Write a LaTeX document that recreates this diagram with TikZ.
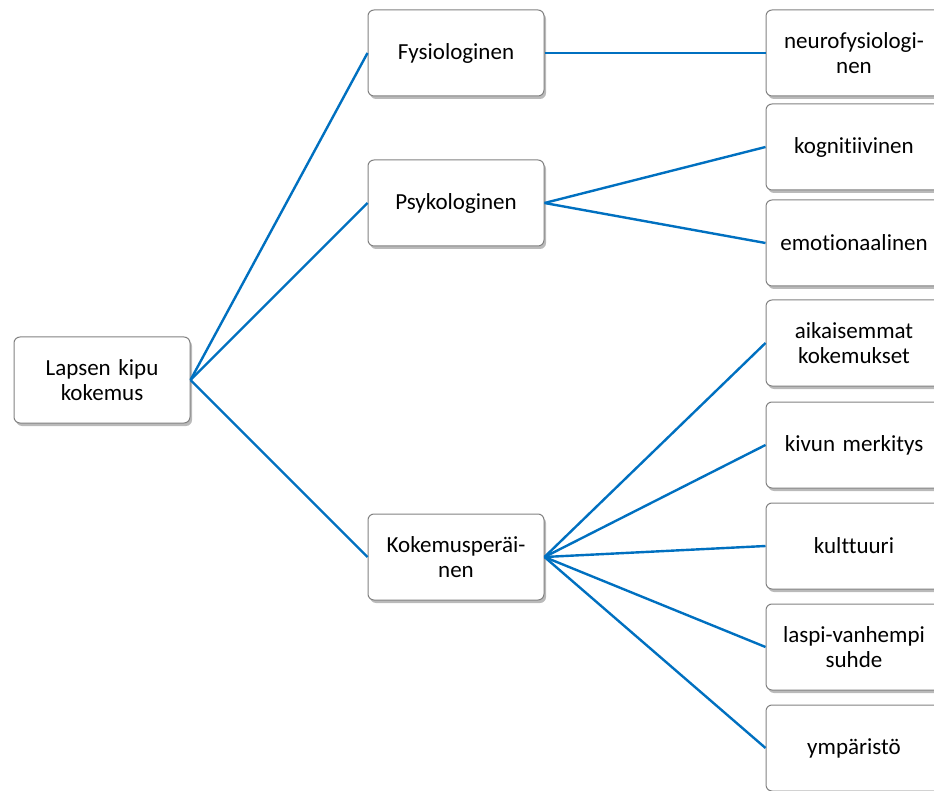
\documentclass[tikz,border=0pt]{standalone}
\usepackage{fontspec}
\setmainfont{Carlito}[Ligatures={NoCommon}, WordSpace={0.8,0.5,0.5}]
\usetikzlibrary{shadows}
\definecolor{linkblue}{RGB}{0,112,192}
\definecolor{boxgray}{RGB}{130,130,130}
\tikzset{
  box/.style={draw=boxgray, line width=1pt, rounded corners=6pt, fill=white,
    minimum width=176pt, minimum height=86pt, text width=170pt, align=center,
    font=\fontsize{23}{25}\selectfont, inner sep=0pt,
    drop shadow={shadow xshift=2pt, shadow yshift=-3pt, opacity=0.45, fill=black!60}},
  link/.style={draw=linkblue, line width=2.4pt}
}
\begin{document}
\begin{tikzpicture}[x=1pt,y=-1pt]
\useasboundingbox (0,0) rectangle (934,791);
\clip (0,0) rectangle (934,791);
\node[box] (root) at (102,380) {Lapsen kipu\\kokemus};
\node[box] (fys) at (456,53) {Fysiologinen};
\node[box] (psy) at (456,203) {Psykologinen};
\node[box] (kok) at (456,557) {Kokemusperäi-\\nen};
\node[box] (neu) at (854,53) {neurofysiologi-\\nen};
\node[box] (kog) at (854,147) {kognitiivinen};
\node[box] (emo) at (854,243) {emotionaalinen};
\node[box] (aik) at (854,343) {aikaisemmat\\kokemukset};
\node[box] (kiv) at (854,445) {kivun merkitys};
\node[box] (kul) at (854,546) {kulttuuri};
\node[box] (las) at (854,647) {laspi-vanhempi\\suhde};
\node[box] (ymp) at (854,748) {ympäristö};
\draw[link] (root.east) -- (fys.west);
\draw[link] (root.east) -- (psy.west);
\draw[link] (root.east) -- (kok.west);
\draw[link] (fys.east) -- (neu.west);
\draw[link] (psy.east) -- (kog.west);
\draw[link] (psy.east) -- (emo.west);
\draw[link] (kok.east) -- (aik.west);
\draw[link] (kok.east) -- (kiv.west);
\draw[link] (kok.east) -- (kul.west);
\draw[link] (kok.east) -- (las.west);
\draw[link] (kok.east) -- (ymp.west);
\end{tikzpicture}
\end{document}
